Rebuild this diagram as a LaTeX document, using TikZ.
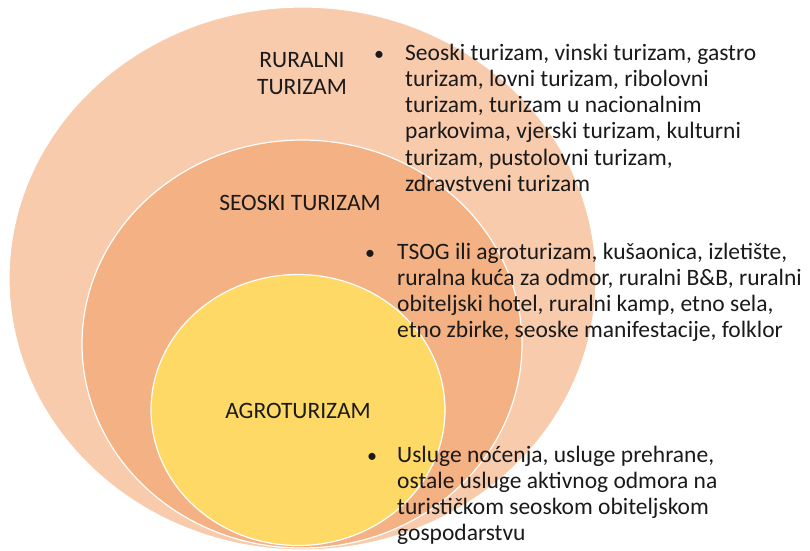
\documentclass[tikz,border=0pt]{standalone}
\usepackage{fontspec}
\setmainfont{Carlito}
\usetikzlibrary{shapes.geometric}
\definecolor{ruralcol}{HTML}{F8CBAD}
\definecolor{seoskicol}{HTML}{F4B183}
\definecolor{agrocol}{HTML}{FFD966}
\definecolor{txtcol}{HTML}{1A1A1A}
\tikzset{
  ring/.style={ellipse, draw=white, line width=1.2pt, inner sep=0pt},
  title/.style={align=center, text=txtcol, inner sep=0pt, font=\fontsize{23.5}{26.3}\selectfont},
  listtext/.style={align=left, text=txtcol, inner sep=0pt, anchor=base west, font=\fontsize{23.5}{26.3}\selectfont},
  bul/.style={text=txtcol, inner sep=0pt, anchor=base, font=\fontsize{20}{26.3}\selectfont}
}
\begin{document}
\begin{tikzpicture}[x=1pt,y=-1pt]
\useasboundingbox (0,0) rectangle (810,550);
\node[ring, fill=ruralcol, minimum width=587pt, minimum height=543pt] (outer) at (302.5,278.5) {};
\node[ring, fill=seoskicol, minimum width=440pt, minimum height=408pt] (middle) at (302,344) {};
\node[ring, fill=agrocol, minimum width=294pt, minimum height=271pt] (inner) at (298,410) {};

% base anchor of a multi-line node is the baseline of its last line
\node[title, anchor=base] (rural) at (302,94) {RURALNI\\TURIZAM};
\node[title, anchor=base] (seoski) at (300,210) {SEOSKI TURIZAM};
\node[title, anchor=base] (agro) at (298,418) {AGROTURIZAM};

\node[bul] (b1) at (379,60) {\textbullet};
\node[listtext] (l1) at (405,191.5) {Seoski turizam, vinski turizam, gastro\\turizam, lovni turizam, ribolovni\\turizam, turizam u nacionalnim\\parkovima, vjerski turizam, kulturni\\turizam, pustolovni turizam,\\zdravstveni turizam};

\node[bul] (b2) at (370,259) {\textbullet};
\node[listtext] (l2) at (397,337.9) {TSOG ili agroturizam, kušaonica, izletište,\\ruralna kuća za odmor, ruralni B\&B, ruralni\\obiteljski hotel, ruralni kamp, etno sela,\\etno zbirke, seoske manifestacije, folklor};

\node[bul] (b3) at (372,462) {\textbullet};
\node[listtext] (l3) at (397,540.9) {Usluge noćenja, usluge prehrane,\\ostale usluge aktivnog odmora na\\turističkom seoskom obiteljskom\\gospodarstvu};
\end{tikzpicture}
\end{document}
